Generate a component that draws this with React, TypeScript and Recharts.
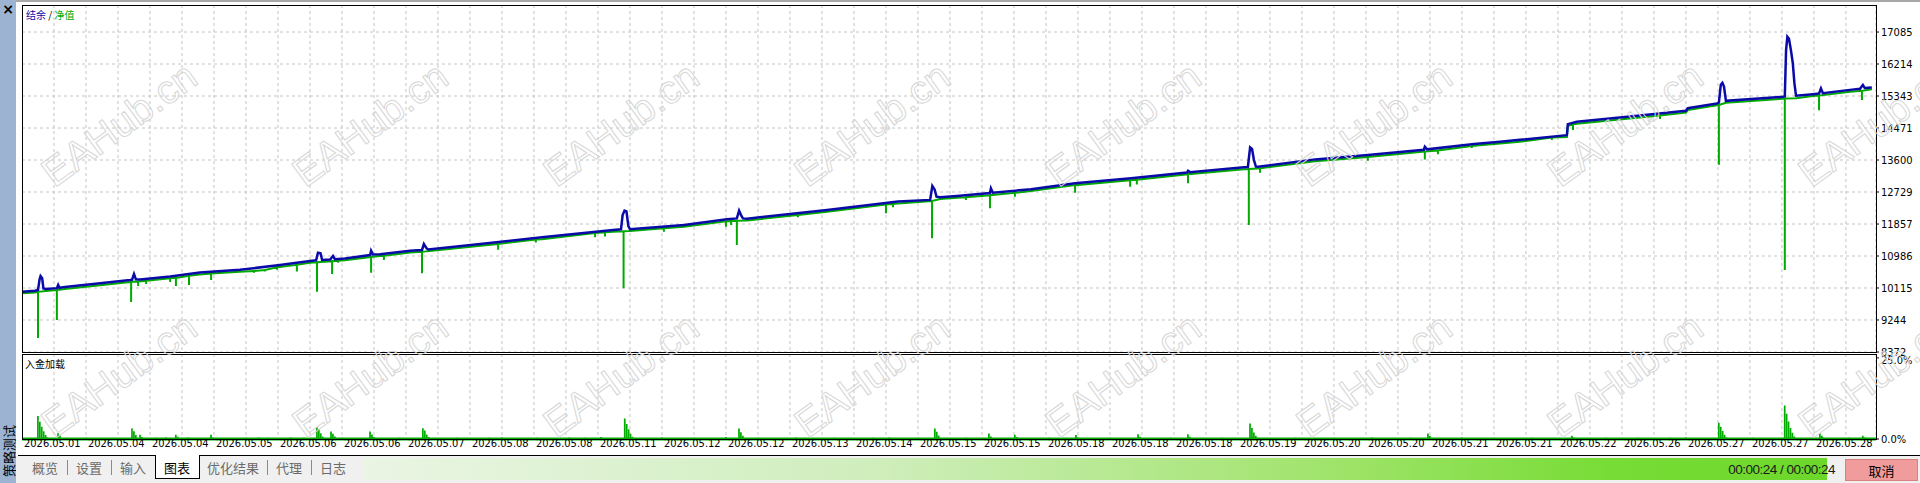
import React from "react";
import {
  ComposedChart,
  Line,
  Bar,
  XAxis,
  YAxis,
  CartesianGrid,
  ReferenceLine,
} from "recharts";

// x runs over deal index 0..X_MAX, grid every 10, date label every 20
const X_MAX = 579.4;

const dateLabels = [
  "2026.05.01", "2026.05.04", "2026.05.04", "2026.05.05", "2026.05.06",
  "2026.05.06", "2026.05.07", "2026.05.08", "2026.05.08", "2026.05.11",
  "2026.05.12", "2026.05.12", "2026.05.13", "2026.05.14", "2026.05.15",
  "2026.05.15", "2026.05.18", "2026.05.18", "2026.05.18", "2026.05.19",
  "2026.05.20", "2026.05.20", "2026.05.21", "2026.05.21", "2026.05.22",
  "2026.05.26", "2026.05.27", "2026.05.27", "2026.05.28",
];

const priceTicks = [8372, 9244, 10115, 10986, 11857, 12729, 13600, 14471, 15343, 16214, 17085];
const loadTicks = [0, 25];

// balance (结余): [x, value]
const balance: [number, number][] = [
  [0, 10015], [4.1, 10040], [5.0, 10060], [5.5, 10350], [5.8, 10441], [6.3, 10380], [6.7, 10100],
  [7.5, 10087], [10.9, 10110], [11.3, 10196], [11.7, 10120], [13.4, 10142], [24.4, 10242],
  [33.8, 10332], [34.4, 10340], [35.0, 10495], [35.6, 10350], [36.9, 10345], [46.3, 10430],
  [55.6, 10539], [68.1, 10611], [80.6, 10738], [90.0, 10850], [91.9, 10870], [92.5, 11075],
  [93.3, 11060], [93.8, 10877], [96.3, 10890], [97.2, 10986], [97.8, 10900], [100.9, 10920],
  [108.8, 11013], [109.1, 11130], [109.7, 11025], [111.9, 11035], [121.3, 11130], [125.0, 11150],
  [125.6, 11313], [126.4, 11200], [126.9, 11165], [140.3, 11285], [162.5, 11495], [184.7, 11694],
  [187.2, 11715], [187.7, 12100], [188.3, 12222], [188.9, 12200], [189.5, 11800], [190.0, 11715],
  [206.9, 11830], [220.3, 11985], [223.4, 12010], [224.1, 12222], [224.7, 12100], [225.3, 12010],
  [226.6, 12003], [251.6, 12240], [273.8, 12467], [283.8, 12513], [284.5, 12894], [285.2, 12800],
  [285.8, 12600], [286.9, 12586], [292.2, 12620], [302.5, 12700], [302.8, 12830], [303.4, 12710],
  [315.3, 12803], [329.1, 12966], [346.6, 13102], [364.1, 13260], [364.4, 13308], [365.0, 13270],
  [381.9, 13400], [383.1, 13410], [383.8, 13944], [384.4, 13900], [385.0, 13600], [385.6, 13420],
  [386.3, 13418], [404.1, 13617], [420.6, 13735], [438.1, 13880], [438.4, 13962], [439.1, 13890],
  [453.8, 14035], [461.9, 14099], [468.1, 14150], [482.8, 14276], [483.1, 14577], [485.9, 14640],
  [505.6, 14810], [520.0, 14940], [520.6, 15010], [529.7, 15140], [530.3, 15160], [530.9, 15650],
  [531.4, 15701], [531.9, 15600], [532.5, 15211], [550.3, 15320], [550.9, 15330], [551.3, 16600],
  [551.7, 16957], [552.2, 16900], [552.8, 16600], [553.4, 16236], [553.9, 15692], [554.4, 15350],
  [559.7, 15393], [561.6, 15410], [562.2, 15548], [562.8, 15420], [571.3, 15510], [574.4, 15540],
  [575.3, 15645], [575.9, 15560], [578.1, 15574],
];

// equity (净值) running level: [x, value]
const equityBase: [number, number][] = [
  [0, 9970], [4.1, 9990], [7.5, 10035], [13.4, 10090], [24.4, 10190], [33.8, 10280],
  [46.3, 10380], [55.6, 10485], [68.1, 10560], [80.6, 10688], [90.0, 10800], [100.9, 10870],
  [111.9, 10985], [121.3, 11080], [140.3, 11235], [162.5, 11445], [184.7, 11644], [190.0, 11665],
  [206.9, 11780], [220.3, 11935], [226.6, 11953], [251.6, 12190], [273.8, 12417], [286.9, 12536],
  [292.2, 12570], [315.3, 12753], [329.1, 12916], [346.6, 13052], [364.4, 13215], [381.9, 13350],
  [386.3, 13368], [404.1, 13567], [420.6, 13685], [453.8, 13985], [461.9, 14049], [468.1, 14100],
  [482.8, 14226], [483.1, 14527], [485.9, 14590], [505.6, 14760], [520.0, 14890], [520.6, 14960],
  [529.7, 15090], [532.5, 15161], [550.3, 15270], [554.4, 15285], [559.7, 15343], [571.3, 15460],
  [578.1, 15524],
];

// equity drawdowns: [x, level, low]
const equityDips: [number, number, number][] = [
  [5.0, 10010, 8754], [10.9, 10060, 9244], [34.1, 10285, 9733], [36.3, 10290, 10169],
  [38.8, 10315, 10223], [46.3, 10380, 10278], [47.2, 10385, 10359], [48.1, 10390, 10169],
  [52.2, 10445, 10196], [59.1, 10510, 10332], [72.5, 10575, 10530], [75.9, 10605, 10565],
  [79.7, 10680, 10611], [85.9, 10745, 10565], [92.2, 10815, 10014], [96.9, 10845, 10495],
  [98.8, 10855, 10800], [109.1, 10960, 10530], [113.1, 10990, 10875], [125.0, 11100, 10515],
  [148.8, 11315, 11158], [160.6, 11435, 11357], [179.1, 11615, 11500], [182.2, 11630, 11520],
  [188.0, 11660, 10106], [200.6, 11745, 11649], [220.0, 11930, 11785], [221.6, 11937, 11830],
  [223.4, 11945, 11285], [242.5, 12105, 12040], [270.0, 12385, 12149], [272.2, 12405, 12313],
  [284.4, 12485, 11468], [295.0, 12585, 12513], [302.5, 12640, 12285], [310.3, 12705, 12600],
  [329.1, 12916, 12710], [346.3, 13050, 12875], [348.4, 13065, 12930], [364.4, 13215, 12966],
  [383.4, 13355, 11830], [386.9, 13373, 13254], [420.6, 13685, 13581], [438.4, 13830, 13617],
  [442.5, 13860, 13754], [453.1, 13980, 13925], [478.1, 14210, 14144], [484.7, 14570, 14417],
  [511.9, 14815, 14720], [530.3, 15100, 13473], [550.9, 15273, 10605], [561.6, 15355, 14957],
  [575.0, 15485, 15231],
];

// deposit load (入金加载) %: [x, value]
const depositLoad: [number, number][] = [
  [5.0, 7.1], [5.6, 5.3], [6.2, 3.8], [6.8, 2.4], [7.4, 1.2], [8.0, 0.5], [11.3, 1.8], [11.9, 1.0],
  [16, 0.3], [20, 0.4], [26, 0.3], [34.4, 3.2], [35.0, 2.4], [35.6, 1.2], [36.9, 1.3], [37.5, 0.6],
  [42, 0.4], [45, 0.5], [48.1, 1.3], [48.7, 0.7], [52, 0.5], [55, 0.3], [59.1, 1.3], [59.7, 0.5],
  [65, 0.3], [70, 0.4], [74, 0.5], [77, 0.4], [80, 0.3], [84, 0.5], [88, 0.4],
  [92.2, 3.6], [92.8, 3.0], [93.4, 1.8], [94.0, 0.8], [96.6, 2.3], [97.2, 1.6], [97.8, 0.8],
  [100, 0.4], [104, 0.3], [108.8, 2.3], [109.4, 1.4], [110, 0.6], [114, 0.3], [118, 0.4],
  [125.3, 3.3], [125.9, 2.6], [126.5, 1.4], [127.1, 0.6], [131, 0.3], [136, 0.4], [141, 0.3],
  [146, 0.4], [150, 0.5], [156, 0.3], [161, 0.4], [166, 0.3], [171, 0.5], [176, 0.4], [181, 0.6],
  [188.4, 6.3], [189.0, 4.6], [189.6, 3.0], [190.2, 1.6], [190.8, 0.7], [195, 0.3], [200, 0.5],
  [205, 0.3], [210, 0.4], [215, 0.3], [220, 0.6], [224.1, 3.2], [224.7, 2.1], [225.3, 1.0],
  [230, 0.4], [236, 0.3], [242, 0.5], [248, 0.3], [254, 0.4], [260, 0.3], [266, 0.4], [271, 0.5],
  [276, 0.3], [280, 0.4], [285.3, 3.2], [285.9, 2.2], [286.5, 1.1], [290, 0.3], [295, 0.4],
  [302.2, 1.7], [302.8, 0.8], [306, 0.3], [310.3, 1.3], [310.9, 0.6], [316, 0.3], [321, 0.4],
  [325, 0.3], [329.4, 1.2], [330, 0.5], [335, 0.3], [340, 0.4], [344, 0.3], [348.8, 1.5],
  [349.4, 0.7], [354, 0.3], [359, 0.4], [364.4, 1.5], [365.0, 0.7], [370, 0.3], [375, 0.4],
  [380, 0.3], [383.8, 4.8], [384.4, 3.4], [385.0, 2.0], [385.6, 1.0], [386.2, 0.4], [392, 0.3],
  [398, 0.4], [404, 0.3], [410, 0.4], [416, 0.3], [422, 0.5], [428, 0.3], [434, 0.4],
  [439.4, 1.7], [440, 0.9], [440.6, 0.4], [445, 0.3], [450, 0.5], [455, 0.3], [460, 0.4],
  [466, 0.3], [472, 0.4], [478, 0.3], [484.4, 1.0], [485, 0.5], [490, 0.3], [495, 0.4],
  [500, 0.3], [505, 0.4], [510, 0.3], [515, 0.4], [520, 0.5], [525, 0.3], [530.3, 5.0],
  [530.9, 3.8], [531.5, 2.5], [532.1, 1.3], [532.7, 0.5], [537, 0.3], [541, 0.4], [545, 0.3],
  [550.9, 10.3], [551.5, 7.8], [552.1, 5.4], [552.7, 3.4], [553.3, 1.9], [553.9, 0.8], [556, 0.3],
  [561.9, 1.7], [562.5, 1.0], [563.1, 0.4], [567, 0.3], [571, 0.4], [575.3, 1.0], [575.9, 0.5],
  [578, 0.3],
];

const tabs = ["概览", "设置", "输入", "图表", "优化结果", "代理", "日志"];
const activeTab = "图表";
const elapsed = "00:00:24 / 00:00:24";

const BLUE = "#0a0aa8";
const GREEN = "#00aa00";
const numFont = "'Liberation Sans Narrow', 'DejaVu Sans Condensed', 'Liberation Sans', sans-serif";
const cjkFont = "'Noto Sans CJK SC', sans-serif";

const gridTicks = Array.from({ length: 58 }, (_, i) => i * 10);

const balanceData = balance.map(([x, v]) => ({ x, v }));
const equityData = [
  ...equityBase.map(([x, v]) => ({ x, v })),
  ...equityDips.flatMap(([x, b, l]) => [
    { x, v: b },
    { x, v: l },
    { x, v: b },
  ]),
].sort((a, b) => a.x - b.x);
const loadData = depositLoad.map(([x, v]) => ({ x, v }));

const DateTick = (props: any) => {
  const { x, y, payload } = props;
  if (payload.value % 20 !== 0) return <g />;
  return (
    <text x={x + 2} y={y} dy={4} fontSize={11} fontFamily={numFont} fill="#000" textAnchor="start">
      {dateLabels[payload.value / 20]}
    </text>
  );
};

const Watermarks = () => {
  const cols = [119, 370, 621, 872, 1123, 1374, 1625, 1876];
  const rows = [124, 375];
  return (
    <svg width={1920} height={456} style={{ position: "absolute", left: 0, top: 0, pointerEvents: "none" }}>
      {rows.flatMap((cy) =>
        cols.map((cx) => (
          <text
            key={`${cx}-${cy}`}
            x={cx}
            y={cy}
            transform={`rotate(-36 ${cx} ${cy})`}
            textAnchor="middle"
            dominantBaseline="central"
            fontFamily="'Liberation Sans', sans-serif"
            fontSize={40}
            fill="none"
            stroke="#d6d6d6"
            strokeWidth={1}
          >
            EAHub.cn
          </text>
        ))
      )}
    </svg>
  );
};

export default function App() {
  return (
    <div style={{ position: "absolute", left: 0, top: 0, width: 1920, height: 483, overflow: "hidden", background: "#fff" }}>
      {/* left side strip */}
      <div style={{ position: "absolute", left: 0, top: 0, width: 16, height: 483, background: "#9cb4d2" }} />
      <div style={{ position: "absolute", left: 2, top: 1, width: 12, fontSize: 14, fontWeight: "bold", fontFamily: "'DejaVu Sans', sans-serif", textAlign: "center" }}>×</div>
      <div
        style={{
          position: "absolute",
          left: 8,
          top: 451,
          transform: "translate(-50%, -50%) rotate(-90deg)",
          fontFamily: cjkFont,
          fontSize: 13,
          whiteSpace: "nowrap",
          color: "#000",
        }}
      >
        策略测试
      </div>
      <div style={{ position: "absolute", left: 16, top: 0, width: 1904, height: 2, background: "#a8a8a8" }} />

      {/* main panel: plot area 347px tall, extra bottom margin keeps the lowest price label visible */}
      <div style={{ position: "absolute", left: 22, top: 5 }}>
        <ComposedChart width={1898} height={354} margin={{ top: 0, right: 0, bottom: 7, left: 0 }}>
          <CartesianGrid stroke="#c4c4c4" strokeDasharray="3 3" />
          <XAxis type="number" dataKey="x" domain={[0, X_MAX]} ticks={gridTicks} hide allowDataOverflow />
          <YAxis
            orientation="right"
            type="number"
            domain={[8372, 17821]}
            ticks={priceTicks}
            width={44}
            axisLine={false}
            tickLine={{ stroke: "#000" }}
            tickSize={3}
            tickMargin={2}
            tick={{ fontSize: 11, fill: "#000", fontFamily: numFont, textAnchor: "start" }}
            allowDataOverflow
          />
          <Line data={equityData} dataKey="v" type="linear" stroke={GREEN} strokeWidth={2} dot={false} isAnimationActive={false} />
          <Line data={balanceData} dataKey="v" type="linear" stroke={BLUE} strokeWidth={2.5} dot={false} isAnimationActive={false} />
        </ComposedChart>
      </div>
      <div style={{ position: "absolute", left: 22, top: 5, width: 1855, height: 348, boxSizing: "border-box", border: "1px solid #000" }} />
      <div style={{ position: "absolute", left: 26, top: 7, fontFamily: cjkFont, fontSize: 10 }}>
        <span style={{ color: BLUE }}>结余</span>
        <span style={{ color: "#000" }}> / </span>
        <span style={{ color: GREEN }}>净值</span>
      </div>

      {/* deposit load panel */}
      <div style={{ position: "absolute", left: 22, top: 354 }}>
        <ComposedChart data={loadData} width={1898} height={102} margin={{ top: 0, right: 0, bottom: 0, left: 0 }}>
          <CartesianGrid stroke="#c4c4c4" strokeDasharray="3 3" horizontal={false} />
          <XAxis
            type="number"
            dataKey="x"
            domain={[0, X_MAX]}
            ticks={gridTicks}
            height={17}
            axisLine={false}
            tickLine={false}
            tickSize={4}
            tickMargin={0}
            tick={<DateTick />}
            interval={0}
            allowDataOverflow
          />
          <YAxis
            orientation="right"
            type="number"
            domain={[0, 26.2]}
            ticks={loadTicks}
            width={44}
            axisLine={false}
            tickLine={{ stroke: "#000" }}
            tickSize={3}
            tickMargin={2}
            tickFormatter={(v: number) => `${v.toFixed(1)}%`}
            tick={{ fontSize: 11, fill: "#000", fontFamily: numFont, textAnchor: "start" }}
          />
          <ReferenceLine y={0} stroke={GREEN} strokeWidth={3} />
          <Bar dataKey="v" fill={GREEN} barSize={2} isAnimationActive={false} />
        </ComposedChart>
      </div>
      <div style={{ position: "absolute", left: 22, top: 354, width: 1855, height: 86, boxSizing: "border-box", border: "1px solid #000" }} />
      <div style={{ position: "absolute", left: 25, top: 356, fontFamily: cjkFont, fontSize: 10, color: "#000" }}>入金加载</div>

      <Watermarks />

      {/* bottom tab row */}
      <div style={{ position: "absolute", left: 16, top: 456, width: 1904, height: 27, background: "#f0f0f0" }} />
      <div style={{ position: "absolute", left: 18, top: 455, width: 1902, height: 1, background: "#000" }} />
      {(() => {
        const centers = [45, 89, 133, 177, 233, 289, 333];
        const seps = [67, 111, 267, 311];
        return (
          <>
            <div style={{ position: "absolute", left: 155, top: 455, width: 45, height: 24, boxSizing: "border-box", background: "#fff", borderLeft: "1px solid #000", borderRight: "1px solid #000", borderBottom: "1px solid #000" }} />
            {tabs.map((t, i) => (
              <div
                key={t}
                style={{
                  position: "absolute",
                  left: centers[i],
                  top: 467,
                  transform: "translate(-50%, -50%)",
                  fontFamily: cjkFont,
                  fontSize: 13,
                  color: t === activeTab ? "#000" : "#6a6a6a",
                  whiteSpace: "nowrap",
                }}
              >
                {t}
              </div>
            ))}
            {seps.map((s) => (
              <div key={s} style={{ position: "absolute", left: s, top: 460, width: 1, height: 15, background: "#8a8a8a" }} />
            ))}
          </>
        );
      })()}
      <div
        style={{
          position: "absolute",
          left: 363,
          top: 458,
          width: 1464,
          height: 22,
          background: "linear-gradient(to right, #eaf5e4 0%, #cfeebc 35%, #a2e46e 65%, #78dc36 85%, #6cd82a 100%)",
        }}
      />
      <div
        style={{
          position: "absolute",
          right: 1920 - 1835,
          top: 469,
          transform: "translateY(-50%)",
          fontFamily: "'Liberation Sans', sans-serif",
          fontSize: 13.5,
          letterSpacing: -0.5,
          color: "#1a1a1a",
          whiteSpace: "nowrap",
        }}
      >
        {elapsed}
      </div>
      <div
        style={{
          position: "absolute",
          left: 1845,
          top: 459,
          width: 73,
          height: 22,
          boxSizing: "border-box",
          background: "#f09c9c",
          border: "1px solid #d98080",
          display: "flex",
          alignItems: "center",
          justifyContent: "center",
          fontFamily: cjkFont,
          fontSize: 13,
          color: "#000",
        }}
      >
        取消
      </div>
    </div>
  );
}
